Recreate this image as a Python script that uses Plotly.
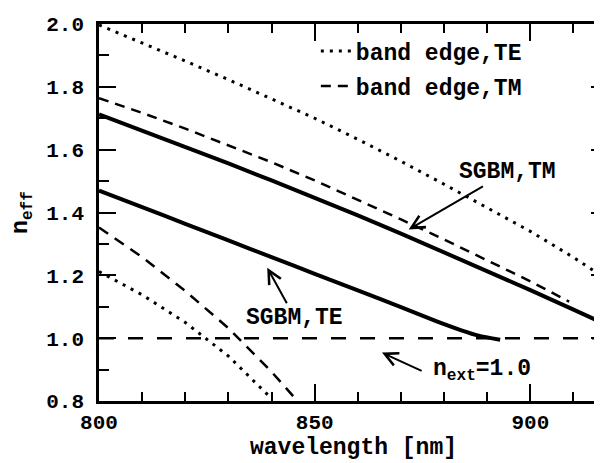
import plotly.graph_objects as go

# ---- data (wavelength in nm, effective index) ----
te_edge_hi_wl = [800, 810, 820, 830, 840, 850, 860, 870, 880, 890, 900, 910, 918]
te_edge_hi_n = [1.997, 1.940, 1.882, 1.823, 1.762, 1.700, 1.633, 1.563, 1.490, 1.416, 1.340, 1.257, 1.185]

te_edge_lo_wl = [800, 810, 820, 830, 840]
te_edge_lo_n = [1.212, 1.138, 1.050, 0.943, 0.808]

tm_edge_hi_wl = [800, 810, 820, 830, 840, 850, 860, 870, 880, 890, 900, 909]
tm_edge_hi_n = [1.764, 1.717, 1.667, 1.614, 1.560, 1.502, 1.441, 1.378, 1.314, 1.248, 1.181, 1.116]

tm_edge_lo_wl = [800, 810, 820, 830, 840, 846]
tm_edge_lo_n = [1.352, 1.258, 1.150, 1.032, 0.893, 0.800]

sgbm_tm_wl = [800, 810, 820, 830, 840, 850, 860, 870, 880, 890, 900, 910, 916]
sgbm_tm_n = [1.712, 1.661, 1.609, 1.556, 1.502, 1.447, 1.391, 1.333, 1.274, 1.214, 1.153, 1.091, 1.053]

sgbm_te_wl = [800, 810, 820, 830, 840, 850, 860, 870, 878, 884, 888, 893]
sgbm_te_n = [1.470, 1.417, 1.364, 1.311, 1.258, 1.205, 1.152, 1.099, 1.055, 1.025, 1.008, 0.995]

n_ext_wl = [800, 918]
n_ext_n = [1.0, 1.0]

x_ticks = [800, 850, 900]
y_ticks = [0.8, 1.0, 1.2, 1.4, 1.6, 1.8, 2.0]

FONT = "Liberation Mono"
BLACK = "black"

fig = go.Figure()

dot_style = dict(color=BLACK, width=3, dash="3px,6px")
dash_style = dict(color=BLACK, width=2.5, dash="10px,7px")

fig.add_trace(go.Scatter(x=te_edge_hi_wl, y=te_edge_hi_n, mode="lines", line=dot_style,
                         name="band edge,TE", legendgroup="te", showlegend=True))
fig.add_trace(go.Scatter(x=te_edge_lo_wl, y=te_edge_lo_n, mode="lines", line=dot_style,
                         name="band edge,TE", legendgroup="te", showlegend=False))
fig.add_trace(go.Scatter(x=tm_edge_hi_wl, y=tm_edge_hi_n, mode="lines", line=dash_style,
                         name="band edge,TM", legendgroup="tm", showlegend=True))
fig.add_trace(go.Scatter(x=tm_edge_lo_wl, y=tm_edge_lo_n, mode="lines", line=dict(color=BLACK, width=2.5, dash="11px,8px"),
                         name="band edge,TM", legendgroup="tm", showlegend=False))
fig.add_trace(go.Scatter(x=sgbm_tm_wl, y=sgbm_tm_n, mode="lines", line=dict(color=BLACK, width=4),
                         name="SGBM,TM", showlegend=False))
fig.add_trace(go.Scatter(x=sgbm_te_wl, y=sgbm_te_n, mode="lines", line=dict(color=BLACK, width=4, shape="spline", smoothing=0.6),
                         name="SGBM,TE", showlegend=False))
fig.add_trace(go.Scatter(x=n_ext_wl, y=n_ext_n, mode="lines", line=dict(color=BLACK, width=2.5, dash="15px,14px"),
                         name="n_ext", showlegend=False))

ann_font = dict(family=FONT, size=23, color=BLACK, weight="bold")
arrow_kw = dict(showarrow=True, arrowhead=5, arrowsize=1.3, arrowwidth=2, arrowcolor=BLACK,
                standoff=0, xref="x", yref="y", axref="x", ayref="y")

# SGBM,TM label: text centre -> arrow tip
fig.add_annotation(x=871.8, y=1.346, ax=894.8, ay=1.529, text="SGBM,TM", font=ann_font, **arrow_kw)
# SGBM,TE label
fig.add_annotation(x=839.0, y=1.224, ax=845.4, ay=1.065, text="SGBM,TE", font=ann_font, **arrow_kw)
# n_ext label: arrow tail at left-middle of the text box
fig.add_annotation(x=865.6, y=0.954, ax=874.8, ay=0.896, text="n<sub>ext</sub>=1.0", font=ann_font,
                   xanchor="left", yanchor="middle", borderpad=10, **arrow_kw)

axis_common = dict(
    showline=True, linewidth=2.5, linecolor=BLACK, mirror="ticks",
    ticks="inside", ticklen=17, tickwidth=2, tickcolor=BLACK,
    showgrid=False, zeroline=False,
    tickfont=dict(family=FONT, size=21, color=BLACK, weight="bold"),
)

fig.update_xaxes(range=[800, 918], tickvals=x_ticks, ticktext=[str(v) for v in x_ticks],
                 minor=dict(dtick=10, tick0=800, ticks="inside", ticklen=9, tickwidth=1.5, tickcolor=BLACK, showgrid=False),
                 ticklabelstandoff=0,
                 title=dict(text="wavelength [nm]", font=dict(family=FONT, size=23, color=BLACK, weight="bold"), standoff=0),
                 **axis_common)
fig.update_yaxes(range=[0.8, 2.0], tickvals=y_ticks, ticktext=[f"{v:.1f}" for v in y_ticks],
                 minor=dict(dtick=0.1, tick0=0.8, ticks="inside", ticklen=10, tickwidth=1.5, tickcolor=BLACK, showgrid=False),
                 ticklabelstandoff=8,
                 title=dict(text="n<sub>eff</sub>", font=dict(family=FONT, size=23, color=BLACK, weight="bold"), standoff=16),
                 **axis_common)

fig.update_layout(
    width=602, height=463,
    margin=dict(l=91, r=2, t=16, b=70, autoexpand=False),
    plot_bgcolor="white", paper_bgcolor="white",
    legend=dict(x=0.426, y=0.985, xanchor="left", yanchor="top",
                bgcolor="rgba(0,0,0,0)", borderwidth=0,
                font=dict(family=FONT, size=23, color=BLACK, weight="bold"),
                tracegroupgap=2),
)

fig.write_html("out.html")
